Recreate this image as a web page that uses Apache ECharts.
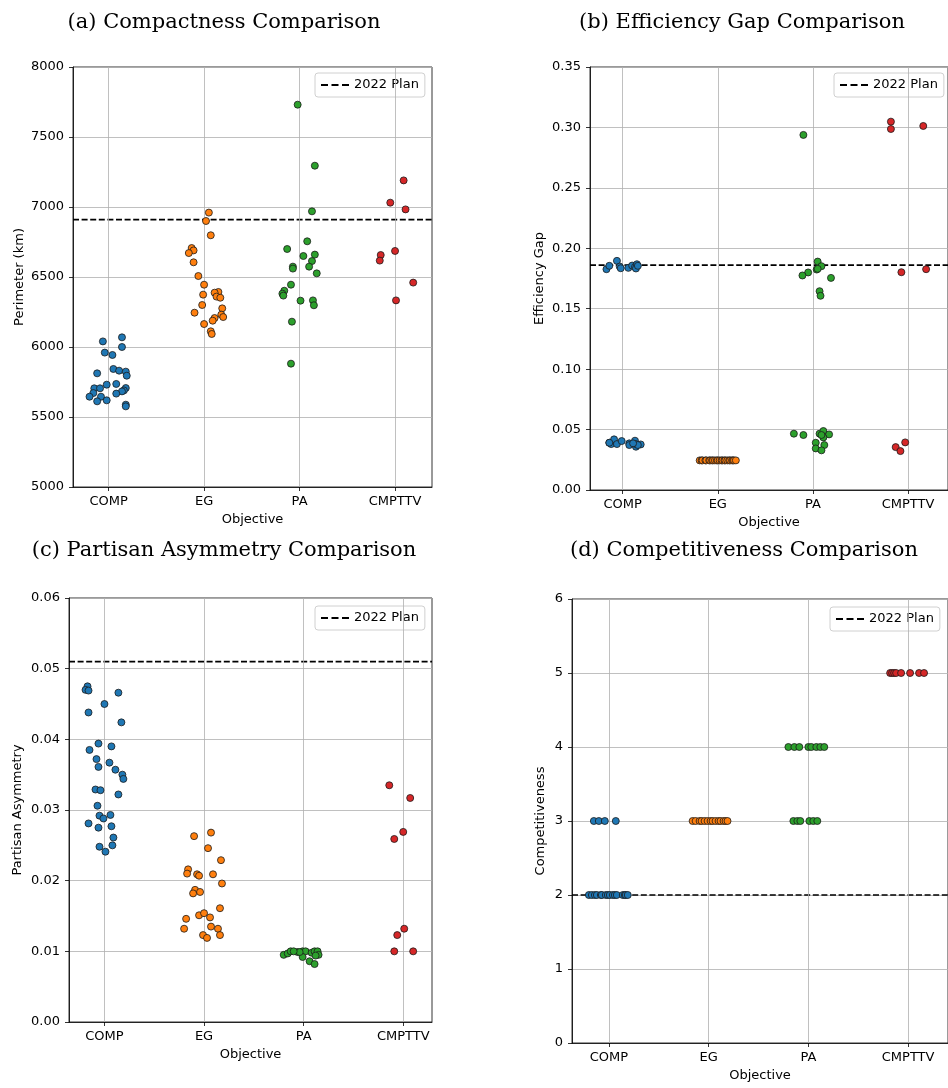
<!DOCTYPE html>
<html lang="en">
<head>
    <meta charset="UTF-8">
    <title>Objective Comparison</title>
    <script src="https://cdn.jsdelivr.net/npm/echarts@6/dist/echarts.min.js"></script>
    <style>
        html, body { margin: 0; padding: 0; background: #fff; }
        #chart-container { width: 948px; height: 1088px; }
    </style>
</head>
<body>
    <div id="chart-container"></div>
    <script>
        var categories = ['COMP', 'EG', 'PA', 'CMPTTV'];
        var colors = ['#1f77b4', '#ff7f0e', '#2ca02c', '#d62728'];

        // (a) perimeter in km, jitter is the horizontal offset from the category
        var perimCOMP = [6040, 6069, 6000, 5960, 5943, 5812, 5843, 5831, 5824, 5795, 5731, 5736, 5705, 5705, 5707, 5690, 5683, 5671, 5645, 5645, 5667, 5612, 5619, 5588, 5576];
        var perimCOMPJit = [-0.06, 0.14, 0.14, -0.04, 0.04, -0.12, 0.05, 0.11, 0.18, 0.19, -0.02, 0.08, -0.15, -0.09, 0.18, 0.16, 0.14, -0.16, -0.20, -0.08, 0.08, -0.12, -0.02, 0.18, 0.18];
        var perimEG = [6960, 6900, 6798, 6707, 6690, 6671, 6605, 6507, 6445, 6393, 6388, 6360, 6352, 6374, 6300, 6276, 6245, 6231, 6214, 6207, 6188, 6164, 6112, 6093];
        var perimEGJit = [0.05, 0.02, 0.07, -0.13, -0.11, -0.16, -0.11, -0.06, 0.00, 0.15, 0.11, 0.13, 0.17, -0.01, -0.02, 0.19, -0.10, 0.18, 0.20, 0.11, 0.09, 0.00, 0.07, 0.08];
        var perimPA = [7731, 7295, 6969, 6755, 6700, 6660, 6650, 6614, 6574, 6560, 6574, 6526, 6445, 6402, 6381, 6367, 6331, 6333, 6298, 6181, 5881];
        var perimPAJit = [-0.02, 0.16, 0.13, 0.08, -0.13, 0.16, 0.04, 0.13, -0.07, -0.07, 0.10, 0.18, -0.09, -0.16, -0.18, -0.17, 0.01, 0.14, 0.15, -0.08, -0.09];
        var perimCMPTTV = [7190, 7031, 6983, 6686, 6657, 6617, 6460, 6333];
        var perimCMPTTVJit = [0.09, -0.05, 0.11, 0.00, -0.15, -0.16, 0.19, 0.01];
        var perimPlan = 6910;

        // (b) efficiency gap
        var egCOMP = [0.1827, 0.1855, 0.1896, 0.1849, 0.1835, 0.1838, 0.1857, 0.1846, 0.1868, 0.1833, 0.1855,
            0.0391, 0.0380, 0.0419, 0.0380, 0.0405, 0.0386, 0.0372, 0.0408, 0.0358, 0.0380, 0.0377, 0.0372, 0.0391, 0.0386];
        var egCOMPJit = [-0.17, -0.14, -0.06, -0.03, -0.02, 0.06, 0.10, 0.13, 0.15, 0.14, 0.16,
            -0.14, -0.12, -0.09, -0.06, -0.01, 0.07, 0.07, 0.13, 0.14, 0.14, 0.19, 0.16, -0.14, 0.11];
        var egEG = [0.0245, 0.0245, 0.0245, 0.0245, 0.0245, 0.0245, 0.0245, 0.0245, 0.0245, 0.0245, 0.0245, 0.0245,
            0.0245, 0.0245, 0.0245, 0.0245, 0.0245, 0.0245, 0.0245, 0.0245, 0.0245, 0.0245, 0.0245, 0.0245];
        var egEGJit = [-0.19, -0.17, -0.16, -0.13, -0.12, -0.09, -0.08, -0.06, -0.05, -0.03, -0.01, 0.00,
            0.02, 0.04, 0.05, 0.07, 0.08, 0.10, 0.12, 0.13, 0.15, 0.16, 0.17, 0.19];
        var egPA = [0.2938, 0.1890, 0.1852, 0.1824, 0.1830, 0.1800, 0.1775, 0.1755, 0.1645, 0.1607,
            0.0466, 0.0455, 0.0466, 0.0488, 0.0460, 0.0435, 0.0391, 0.0372, 0.0344, 0.0328, 0.0455];
        var egPAJit = [-0.10, 0.05, 0.09, 0.04, 0.05, -0.05, -0.11, 0.19, 0.07, 0.08,
            -0.20, -0.10, 0.07, 0.11, 0.17, 0.11, 0.03, 0.12, 0.03, 0.09, 0.09];
        var egCMPTTV = [0.3048, 0.2987, 0.3012, 0.1802, 0.1827, 0.0355, 0.0394, 0.0322];
        var egCMPTTVJit = [-0.18, -0.18, 0.16, -0.07, 0.19, -0.13, -0.03, -0.08];
        var egPlan = 0.186;

        // (c) partisan asymmetry
        var paCOMP = [0.0475, 0.0470, 0.0469, 0.0466, 0.0450, 0.0438, 0.0424, 0.0394, 0.0390, 0.0385, 0.0372, 0.0367, 0.0361, 0.0357, 0.0350,
            0.0344, 0.0329, 0.0328, 0.0322, 0.0306, 0.0292, 0.0293, 0.0288, 0.0281, 0.0275, 0.0277, 0.0261, 0.0248, 0.0250, 0.0241];
        var paCOMPJit = [-0.17, -0.19, -0.16, 0.14, 0.00, -0.16, 0.17, -0.06, 0.07, -0.15, -0.08, 0.05, -0.06, 0.11, 0.18,
            0.19, -0.09, -0.04, 0.14, -0.07, -0.05, 0.06, -0.01, -0.16, -0.06, 0.07, 0.09, -0.05, 0.08, 0.01];
        var paEG = [0.0263, 0.0268, 0.0246, 0.0229, 0.0216, 0.0210, 0.0209, 0.0207, 0.0209, 0.0196, 0.0187, 0.0182,
            0.0184, 0.0161, 0.0151, 0.0154, 0.0148, 0.0146, 0.0135, 0.0132, 0.0132, 0.0123, 0.0123, 0.0119];
        var paEGJit = [-0.10, 0.07, 0.04, 0.17, -0.16, -0.17, -0.07, -0.05, 0.09, 0.18, -0.09, -0.11,
            -0.04, 0.16, -0.05, 0.00, 0.06, -0.18, 0.07, 0.14, -0.20, 0.16, -0.01, 0.03];
        var paPA = [0.0095, 0.0097, 0.0100, 0.0099, 0.0100, 0.0100, 0.0092, 0.0086, 0.0082, 0.0098, 0.0100, 0.0100, 0.0095, 0.0094, 0.0099, 0.0100];
        var paPAJit = [-0.20, -0.16, -0.13, -0.06, -0.01, 0.02, -0.01, 0.06, 0.11, 0.08, 0.11, 0.14, 0.15, 0.12, -0.04, -0.10];
        var paCMPTTV = [0.0335, 0.0317, 0.0269, 0.0259, 0.0132, 0.0123, 0.0100, 0.0100];
        var paCMPTTVJit = [-0.14, 0.07, 0.00, -0.09, 0.01, -0.06, -0.09, 0.10];
        var paPlan = 0.051;

        // (d) competitiveness
        var compCOMP = [3, 3, 3, 3, 2, 2, 2, 2, 2, 2, 2, 2, 2, 2, 2, 2, 2, 2, 2, 2];
        var compCOMPJit = [-0.15, -0.10, -0.04, 0.07, -0.20, -0.17, -0.14, -0.12, -0.08, -0.07, -0.03, -0.01, 0.01, 0.04, 0.06, 0.08, 0.14, 0.16, 0.17, 0.19];
        var compEG = [3, 3, 3, 3, 3, 3, 3, 3, 3, 3, 3, 3, 3, 3];
        var compEGJit = [-0.16, -0.13, -0.09, -0.07, -0.04, -0.01, 0.02, 0.04, 0.07, 0.10, 0.12, 0.15, 0.17, 0.19];
        var compPA = [4, 4, 4, 4, 4, 4, 4, 4, 3, 3, 3, 3, 3, 3];
        var compPAJit = [-0.20, -0.14, -0.09, 0.00, 0.03, 0.08, 0.12, 0.16, -0.15, -0.11, -0.08, 0.01, 0.05, 0.09];
        var compCMPTTV = [5, 5, 5, 5, 5, 5, 5, 5];
        var compCMPTTVJit = [-0.18, -0.16, -0.14, -0.12, -0.07, 0.02, 0.11, 0.16];
        var compPlan = 2;

        var panels = [
            {
                title: '(a) Compactness Comparison', tx: 224, ty: 23,
                grid: { left: 73, top: 67, width: 359, height: 420 },
                xMin: -0.373, xMax: 3.387, yMin: 5000, yMax: 8000, yStep: 500, dec: 0,
                yName: 'Perimeter (km)', yGap: 47, xGap: 26, legend: { left: 315, top: 73 },
                vals: [perimCOMP, perimEG, perimPA, perimCMPTTV],
                jit: [perimCOMPJit, perimEGJit, perimPAJit, perimCMPTTVJit], plan: perimPlan
            },
            {
                title: '(b) Efficiency Gap Comparison', tx: 742, ty: 23,
                grid: { left: 590, top: 67, width: 365, height: 423 },
                xMin: -0.343, xMax: 3.42, yMin: 0, yMax: 0.35, yStep: 0.05, dec: 2,
                yName: 'Efficiency Gap', yGap: 44, xGap: 26, legend: { left: 834, top: 73 },
                vals: [egCOMP, egEG, egPA, egCMPTTV],
                jit: [egCOMPJit, egEGJit, egPAJit, egCMPTTVJit], plan: egPlan
            },
            {
                title: '(c) Partisan Asymmetry Comparison', tx: 224, ty: 551,
                grid: { left: 69, top: 598, width: 363, height: 424 },
                xMin: -0.356, xMax: 3.289, yMin: 0, yMax: 0.06, yStep: 0.01, dec: 2,
                yName: 'Partisan Asymmetry', yGap: 45, xGap: 26, legend: { left: 315, top: 606 },
                vals: [paCOMP, paEG, paPA, paCMPTTV],
                jit: [paCOMPJit, paEGJit, paPAJit, paCMPTTVJit], plan: paPlan
            },
            {
                title: '(d) Competitiveness Comparison', tx: 744, ty: 551,
                grid: { left: 572, top: 599, width: 384, height: 444 },
                xMin: -0.369, xMax: 3.4, yMin: 0, yMax: 6, yStep: 1, dec: 0,
                yName: 'Competitiveness', yGap: 25, xGap: 26, legend: { left: 830, top: 607 },
                vals: [compCOMP, compEG, compPA, compCMPTTV],
                jit: [compCOMPJit, compEGJit, compPAJit, compCMPTTVJit], plan: compPlan
            }
        ];

        var sans = 'DejaVu Sans';
        // three dashes, stretched to the legend item box
        var dashIcon = 'path://M0,0h7v2h-7z M10.5,0h7v2h-7z M21,0h7v2h-7z';
        var grids = [], xAxes = [], yAxes = [], series = [], legends = [], graphics = [];

        panels.forEach(function (p, k) {
            grids.push(Object.assign({ show: true, borderColor: '#000', borderWidth: 0.8, backgroundColor: 'transparent' }, p.grid));
            xAxes.push({
                gridIndex: k, type: 'value', min: p.xMin, max: p.xMax,
                axisLine: { show: true, onZero: false, lineStyle: { color: '#000', width: 0.8 } },
                axisTick: { show: true, length: 4, customValues: [0, 1, 2, 3], lineStyle: { color: '#000', width: 0.8 } },
                axisLabel: {
                    customValues: [0, 1, 2, 3], margin: 8, fontFamily: sans, fontSize: 13, color: '#000',
                    formatter: function (v) { return categories[Math.round(v)]; }
                },
                splitLine: { show: false },
                name: 'Objective', nameLocation: 'middle', nameGap: p.xGap,
                nameTextStyle: { fontFamily: sans, fontSize: 13, color: '#000' }
            });
            yAxes.push({
                gridIndex: k, type: 'value', min: p.yMin, max: p.yMax, interval: p.yStep,
                axisLine: { show: true, onZero: false, lineStyle: { color: '#000', width: 0.8 } },
                axisTick: { show: true, length: 4, lineStyle: { color: '#000', width: 0.8 } },
                axisLabel: {
                    margin: 9, fontFamily: sans, fontSize: 13, color: '#000',
                    formatter: function (v) { return v.toFixed(p.dec); }
                },
                splitLine: { show: true, lineStyle: { color: '#b0b0b0', width: 0.8 } },
                name: p.yName, nameLocation: 'middle', nameGap: p.yGap,
                nameTextStyle: { fontFamily: sans, fontSize: 13, color: '#000' }
            });
            // dashed 2022 plan line, with the vertical grid lines at the categories
            series.push({
                name: '2022 Plan', type: 'line', xAxisIndex: k, yAxisIndex: k,
                data: [[p.xMin, p.plan], [p.xMax, p.plan]],
                symbol: 'none', z: 3, silent: true,
                lineStyle: { color: '#000', width: 1.7, type: [6, 2.6] },
                itemStyle: { color: '#000' },
                markLine: {
                    silent: true, symbol: ['none', 'none'], label: { show: false }, animation: false,
                    lineStyle: { color: '#b0b0b0', width: 0.8, type: 'solid' },
                    data: [0, 1, 2, 3].map(function (v) { return { xAxis: v }; })
                }
            });
            p.vals.forEach(function (vals, c) {
                series.push({
                    name: categories[c], type: 'scatter', xAxisIndex: k, yAxisIndex: k, z: 5,
                    symbolSize: 7,
                    itemStyle: { color: colors[c], borderColor: '#1a1a1a', borderWidth: 0.8, opacity: 1 },
                    data: vals.map(function (v, i) { return [c + p.jit[c][i], v]; })
                });
            });
            legends.push({
                left: p.legend.left, top: p.legend.top,
                data: [{ name: '2022 Plan', icon: dashIcon }], selectedMode: false,
                itemWidth: 28, itemHeight: 2, itemGap: 5, padding: [5, 6, 5, 6],
                borderColor: '#d0d0d0', borderWidth: 1, borderRadius: 3, backgroundColor: 'rgba(255,255,255,0.8)',
                itemStyle: { color: '#000', borderWidth: 0 },
                textStyle: { fontFamily: sans, fontSize: 13, color: '#000', lineHeight: 14 }
            });
            graphics.push({
                type: 'text', x: p.tx, y: p.ty,
                style: { text: p.title, textAlign: 'center', textVerticalAlign: 'middle', font: '21px "DejaVu Serif"', fill: '#000' }
            });
        });

        var chart = echarts.init(document.getElementById('chart-container'));
        chart.setOption({
            animation: false,
            backgroundColor: '#fff',
            grid: grids,
            xAxis: xAxes,
            yAxis: yAxes,
            legend: legends,
            graphic: graphics,
            series: series
        });
    </script>
</body>
</html>
